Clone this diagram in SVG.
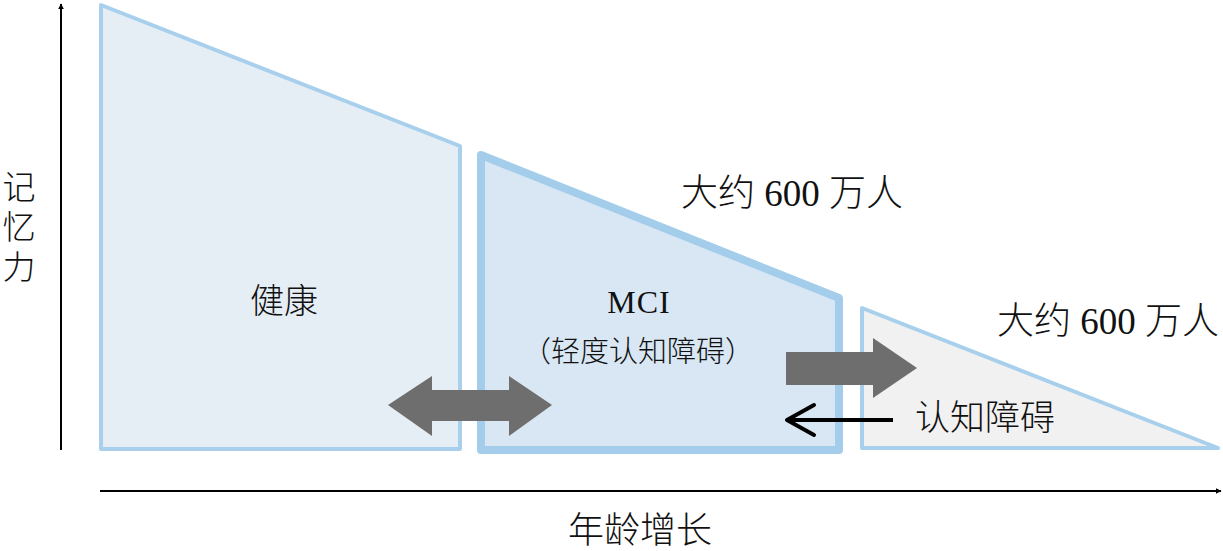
<svg xmlns="http://www.w3.org/2000/svg" width="1223" height="551" viewBox="0 0 1223 551">
<style>
.t{font-family:"Liberation Serif","Noto Sans CJK SC",serif;fill:#111;font-weight:300}
.c{font-family:"Noto Sans CJK SC","Liberation Serif",serif;fill:#111;font-weight:300}
.ax{stroke:#000;stroke-width:2;fill:none}
.gray{fill:#6e6e6e}
</style>
<defs>
<marker id="ah" viewBox="0 0 10 10" refX="9" refY="5" markerWidth="6" markerHeight="6" orient="auto" markerUnits="userSpaceOnUse">
<path d="M0,0 L10,5 L0,10 Z" fill="#000"/>
</marker>
</defs>
<rect width="1223" height="551" fill="#fff"/>
<g id="healthy">
<polygon points="101,5 460,146 460,449 101,449" fill="#e6eef5" stroke="#a8d0ec" stroke-width="4" stroke-linejoin="round"/>
<text class="c" x="284" y="313" font-size="34" text-anchor="middle">健康</text>
</g>
<g id="mci">
<polygon points="481,155 839,298 839,450 481,450" fill="#d8e7f3" stroke="#a3cdea" stroke-width="8" stroke-linejoin="round"/>
<text class="t" x="639" y="313" font-size="32" text-anchor="middle" letter-spacing="1">MCI</text>
<text class="c" x="638" y="362" font-size="29" text-anchor="middle">（轻度认知障碍）</text>
</g>
<g id="dementia">
<polygon points="862,308 1218,448 862,448" fill="#f1f1f1" stroke="#a8d0ec" stroke-width="4" stroke-linejoin="round"/>
<text class="c" x="985" y="430" font-size="35" text-anchor="middle">认知障碍</text>
</g>
<g id="label-mci-count">
<text class="t" x="792" y="206" font-size="37" text-anchor="middle">大约 600 万人</text>
</g>
<g id="label-dementia-count">
<text class="t" x="1108" y="334" font-size="37" text-anchor="middle">大约 600 万人</text>
</g>
<g id="axes">
<line class="ax" x1="61" y1="450" x2="61" y2="4" marker-end="url(#ah)"/>
<line class="ax" x1="100" y1="491" x2="1221" y2="491" marker-end="url(#ah)"/>
<text class="c" font-size="33" x="19" y="170" writing-mode="tb" style="writing-mode:vertical-rl" letter-spacing="7">记忆力</text>
<text class="c" x="640" y="543" font-size="36" text-anchor="middle">年龄增长</text>
</g>
<g id="connectors">
<polygon class="gray" points="388,405 432,376 432,390 509,390 509,376 552,405 509,436 509,421 432,421 432,436"/>
<polygon class="gray" points="786,352 873,352 873,338 917,368 873,398 873,385 786,385"/>
<line x1="893" y1="420" x2="787" y2="420" stroke="#000" stroke-width="4"/>
<polyline points="814,405 787,420 814,435" fill="none" stroke="#000" stroke-width="4" stroke-linecap="round" stroke-linejoin="round"/>
</g>
</svg>
